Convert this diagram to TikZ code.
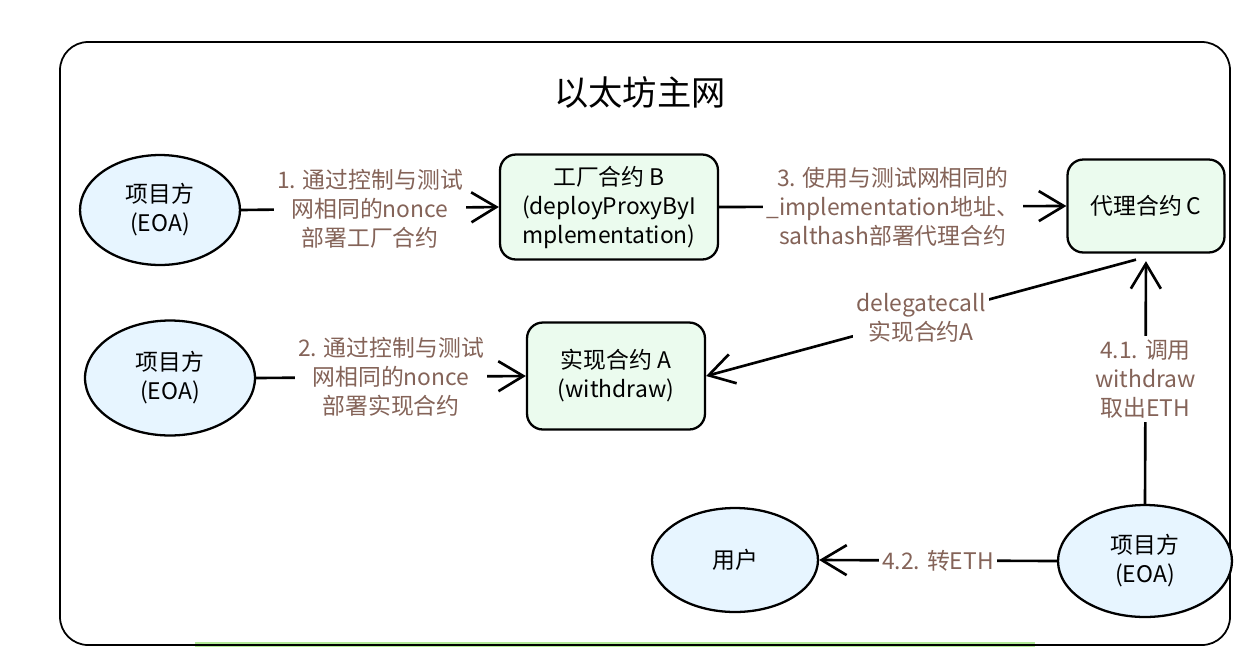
\documentclass[tikz,border=0pt]{standalone}
\usepackage{fontspec}
\usepackage{tikz}
\usetikzlibrary{arrows.meta, positioning, shapes.geometric}
\newfontfamily\cjk{Noto Sans CJK SC}
\definecolor{cbrown}{RGB}{132,99,88}
\definecolor{lightblue}{RGB}{231,245,255}
\definecolor{lightgreen}{RGB}{235,251,238}
\definecolor{stripgreen}{RGB}{178,234,150}

\begin{document}
\begin{tikzpicture}[
    x=0.02cm, y=-0.02cm,
    >={Straight Barb[length=5mm, width=6mm]},
    every node/.style={font=\cjk\fontsize{13}{16.5}\selectfont},
    box/.style={draw, line width=1.3pt, rounded corners=9pt, fill=lightgreen, align=center, inner sep=0pt},
    eoa/.style={draw, line width=1.3pt, ellipse, fill=lightblue, align=center, inner sep=0pt},
    lbl/.style={text=cbrown, fill=white, align=center, inner sep=2pt},
    conn/.style={->, line width=1.5pt},
]
    \useasboundingbox (0,0) rectangle (1245,647);

    % Mainnet frame
    \fill[stripgreen] (195,642) rectangle (1035,647);
    \draw[line width=1pt, rounded corners=16pt] (60,42) rectangle (1230,645);
    \node[font=\cjk\fontsize{19.5}{24}\selectfont] (title) at (640,92) {以太坊主网};

    % Row 1: factory deployment
    \node[eoa, minimum width=3.2cm, minimum height=2.2cm] (eoa1) at (160,210) {项目方\\(EOA)};
    \node[box, minimum width=4.36cm, minimum height=2.1cm] (factory) at (609,207) {工厂合约 B\\(deployProxyByI\\mplementation)};
    \node[box, minimum width=3.14cm, minimum height=1.86cm] (proxy) at (1146,206) {代理合约 C};

    % Row 2: implementation deployment
    \node[eoa, minimum width=3.4cm, minimum height=2.3cm] (eoa2) at (170,378) {项目方\\(EOA)};
    \node[box, minimum width=3.56cm, minimum height=2.14cm] (impl) at (616,376) {实现合约 A\\(withdraw)};

    % Row 3: withdraw
    \node[eoa, minimum width=3.32cm, minimum height=2.08cm] (user) at (735,560) {用户};
    \node[eoa, minimum width=3.48cm, minimum height=2.24cm] (eoa3) at (1145,561) {项目方\\(EOA)};

    \draw[conn] (eoa1.east) -- node[lbl] {1. 通过控制与测试\\网相同的nonce\\部署工厂合约} (factory.west);
    \draw[conn] (factory.east) -- node[lbl] {3. 使用与测试网相同的\\\_implementation地址、\\salthash部署代理合约} (proxy.west);
    \draw[conn] (eoa2.east) -- node[lbl] {2. 通过控制与测试\\网相同的nonce\\部署实现合约} (impl.west);
    \draw[conn] ([xshift=-0.2cm, yshift=-0.12cm]proxy.south) -- node[lbl] {delegatecall\\实现合约A} (impl.east);
    \draw[conn, shorten >=0.15cm] (eoa3.north) -- node[lbl] {4.1. 调用\\withdraw\\取出ETH} (proxy.south);
    \draw[conn] (eoa3.west) -- node[lbl] {4.2. 转ETH} (user.east);
\end{tikzpicture}
\end{document}
